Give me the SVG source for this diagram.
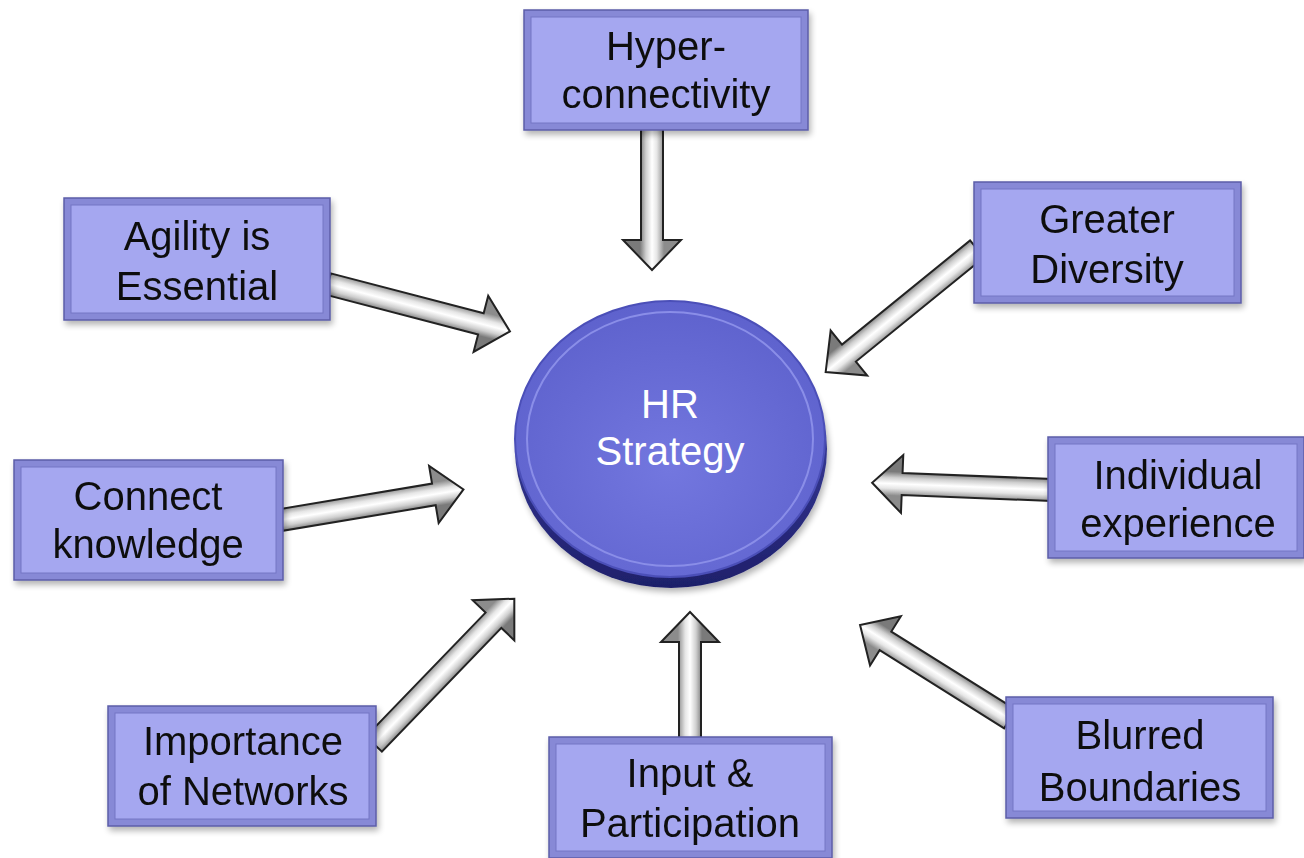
<svg xmlns="http://www.w3.org/2000/svg" width="1304" height="858" viewBox="0 0 1304 858">
<defs>
<linearGradient id="shaft" gradientUnits="userSpaceOnUse" x1="0" y1="-12" x2="0" y2="12">
<stop offset="0" stop-color="#8c8c8c"/>
<stop offset="0.3" stop-color="#e6e6e6"/>
<stop offset="0.5" stop-color="#ffffff"/>
<stop offset="0.75" stop-color="#cfcfcf"/>
<stop offset="1" stop-color="#7a7a7a"/>
</linearGradient>
<radialGradient id="face" cx="0.5" cy="0.6" r="0.6">
<stop offset="0" stop-color="#7377df"/>
<stop offset="1" stop-color="#5e62cd"/>
</radialGradient>
<linearGradient id="side" x1="0" y1="0" x2="0" y2="1">
<stop offset="0" stop-color="#4a4eb8"/>
<stop offset="1" stop-color="#1e1f6a"/>
</linearGradient>
<filter id="sh" x="-10%" y="-10%" width="130%" height="130%">
<feGaussianBlur in="SourceAlpha" stdDeviation="3"/>
<feOffset dx="2" dy="4"/>
<feComponentTransfer><feFuncA type="linear" slope="0.3"/></feComponentTransfer>
<feMerge><feMergeNode/><feMergeNode in="SourceGraphic"/></feMerge>
</filter>
</defs>
<style>
.arr{fill:url(#shaft);stroke:#222;stroke-width:2;stroke-linejoin:miter}
.bo{fill:#8789d6;stroke:#5c5ea8;stroke-width:1.5}
.bi{fill:#a5a7f0;stroke:#7476c4;stroke-width:1}
.t{font-family:"Liberation Sans",Arial,sans-serif;font-size:40px;fill:#111;text-anchor:middle}
.w{font-family:"Liberation Sans",Arial,sans-serif;font-size:40px;fill:#fff;text-anchor:middle}
</style>
<rect width="1304" height="858" fill="#fff"/>
<g id="connectors">
<path class="arr" transform="translate(652,128) rotate(90)" d="M0,-11 L112,-11 L112,-29 L142,0 L112,29 L112,11 L0,11 Z"/>
<path class="arr" transform="translate(328,284) rotate(14.6)" d="M0,-11 L158,-11 L158,-29 L188,0 L158,29 L158,11 L0,11 Z"/>
<path class="arr" transform="translate(977,249) rotate(140.9)" d="M0,-11 L165,-11 L165,-29 L195,0 L165,29 L165,11 L0,11 Z"/>
<path class="arr" transform="translate(281,520) rotate(-9.5)" d="M0,-11 L155,-11 L155,-29 L185,0 L155,29 L155,11 L0,11 Z"/>
<path class="arr" transform="translate(1052,490) rotate(182.3)" d="M0,-11 L150,-11 L150,-29 L180,0 L150,29 L150,11 L0,11 Z"/>
<path class="arr" transform="translate(374,744) rotate(-46)" d="M0,-11 L172,-11 L172,-29 L202,0 L172,29 L172,11 L0,11 Z"/>
<path class="arr" transform="translate(690,742) rotate(-90)" d="M0,-11 L100,-11 L100,-29 L130,0 L100,29 L100,11 L0,11 Z"/>
<path class="arr" transform="translate(1010,719) rotate(212.1)" d="M0,-11 L147,-11 L147,-29 L177,0 L147,29 L147,11 L0,11 Z"/>
</g>
<g id="hr-strategy">
<ellipse cx="671" cy="449" rx="156" ry="139" fill="url(#side)" filter="url(#sh)"/>
<ellipse cx="670" cy="439" rx="155" ry="138" fill="url(#face)" stroke="#4b4fb8" stroke-width="2"/>
<ellipse cx="670" cy="439" rx="143" ry="127" fill="none" stroke="#8a8ee8" stroke-width="2"/>
<text class="w" x="670" y="418">HR</text>
<text class="w" x="670" y="465">Strategy</text>
</g>
<g id="hyper" filter="url(#sh)">
<rect class="bo" x="524" y="10" width="284" height="120"/>
<rect class="bi" x="531" y="17" width="270" height="106"/>
<text class="t" x="666" y="60">Hyper-</text>
<text class="t" x="666" y="108">connectivity</text>
</g>
<g id="agility" filter="url(#sh)">
<rect class="bo" x="64" y="198" width="266" height="122"/>
<rect class="bi" x="71" y="205" width="252" height="108"/>
<text class="t" x="197" y="250">Agility is</text>
<text class="t" x="197" y="300">Essential</text>
</g>
<g id="greater" filter="url(#sh)">
<rect class="bo" x="974" y="182" width="267" height="121"/>
<rect class="bi" x="981" y="189" width="253" height="107"/>
<text class="t" x="1107" y="233">Greater</text>
<text class="t" x="1107" y="283">Diversity</text>
</g>
<g id="connect" filter="url(#sh)">
<rect class="bo" x="14" y="460" width="269" height="120"/>
<rect class="bi" x="21" y="467" width="255" height="106"/>
<text class="t" x="148" y="510">Connect</text>
<text class="t" x="148" y="558">knowledge</text>
</g>
<g id="individual" filter="url(#sh)">
<rect class="bo" x="1048" y="437" width="256" height="121"/>
<rect class="bi" x="1055" y="444" width="242" height="107"/>
<text class="t" x="1178" y="489">Individual</text>
<text class="t" x="1178" y="537">experience</text>
</g>
<g id="networks" filter="url(#sh)">
<rect class="bo" x="108" y="706" width="268" height="120"/>
<rect class="bi" x="115" y="713" width="254" height="106"/>
<text class="t" x="243" y="755">Importance</text>
<text class="t" x="243" y="805">of Networks</text>
</g>
<g id="input" filter="url(#sh)">
<rect class="bo" x="549" y="737" width="283" height="121"/>
<rect class="bi" x="556" y="744" width="269" height="107"/>
<text class="t" x="690" y="787">Input &amp;</text>
<text class="t" x="690" y="837">Participation</text>
</g>
<g id="blurred" filter="url(#sh)">
<rect class="bo" x="1006" y="697" width="267" height="121"/>
<rect class="bi" x="1013" y="704" width="253" height="107"/>
<text class="t" x="1140" y="749">Blurred</text>
<text class="t" x="1140" y="801">Boundaries</text>
</g>
</svg>
